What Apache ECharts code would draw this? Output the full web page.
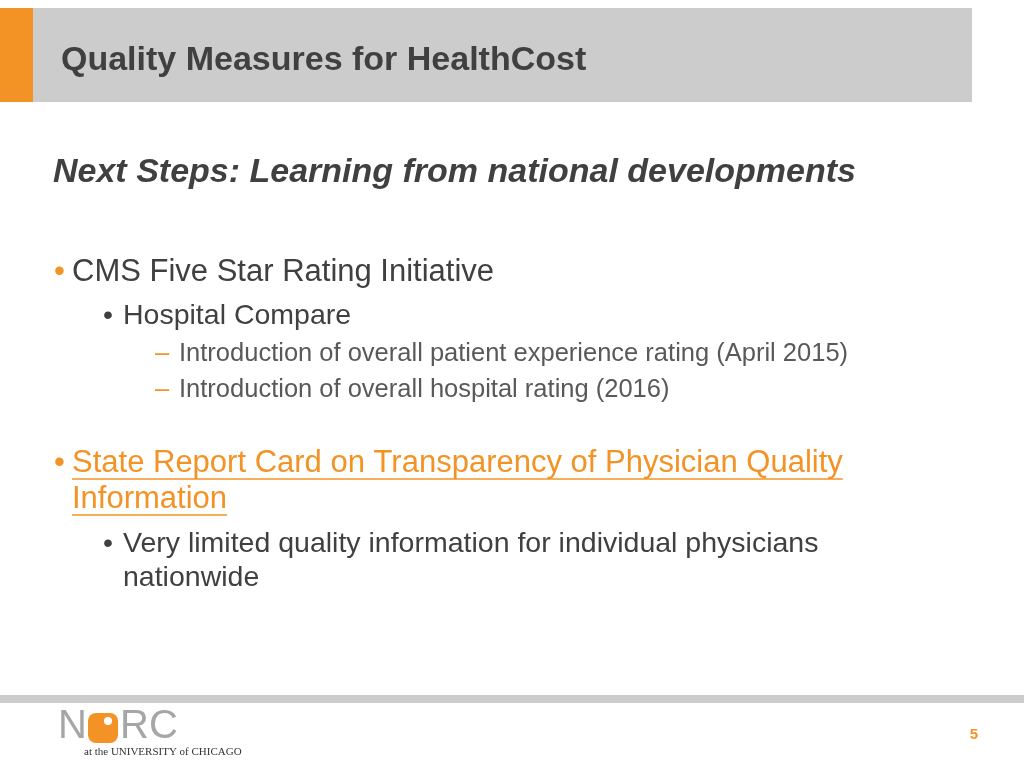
<!DOCTYPE html>
<html>
<head>
<meta charset="utf-8">
<script src="https://cdn.jsdelivr.net/npm/echarts@6/dist/echarts.min.js"></script>
<style>html,body{margin:0;padding:0;background:#fff}#main{width:1024px;height:768px}</style>
</head>
<body>
<div id="main"></div>
<script>
// slide texts
const title = 'Quality Measures for HealthCost';
const subtitle = 'Next Steps: Learning from national developments';
// [level, text, y]
const lines = [
  [1, 'CMS Five Star Rating Initiative', 272],
  [2, 'Hospital Compare', 316],
  [3, 'Introduction of overall patient experience rating (April 2015)', 354],
  [3, 'Introduction of overall hospital rating (2016)', 390],
  [4, 'State Report Card on Transparency of Physician Quality', 463],
  [5, 'Information', 499],
  [2, 'Very limited quality information for individual physicians', 544],
  [6, 'nationwide', 578]
];
const pageNum = '5';

const ORANGE = '#f39325';
const DARK = '#404040';
const FONT = '"Liberation Sans", Arial, sans-serif';

const els = [
  { type: 'rect', shape: { x: 0, y: 8, width: 972, height: 94 }, style: { fill: '#cccccc' } },
  { type: 'rect', shape: { x: 0, y: 8, width: 33, height: 94 }, style: { fill: ORANGE } },
  { type: 'text', x: 61, y: 61, style: { text: title, font: 'bold 34px ' + FONT, fill: DARK, verticalAlign: 'middle' } },
  { type: 'text', x: 53, y: 173, style: { text: subtitle, font: 'italic bold 34px ' + FONT, fill: DARK, verticalAlign: 'middle' } },
  { type: 'rect', shape: { x: 0, y: 695, width: 1024, height: 8 }, style: { fill: '#cccccc' } },
  { type: 'text', x: 974, y: 735, style: { text: pageNum, font: 'bold 15px ' + FONT, fill: ORANGE, align: 'center', verticalAlign: 'middle' } },
  // NORC logo
  { type: 'text', x: 58, y: 727, style: { text: 'N', font: '40px ' + FONT, fill: '#a6a6a6', verticalAlign: 'middle' } },
  { type: 'rect', shape: { x: 88, y: 713, width: 30, height: 30, r: 8 }, style: { fill: ORANGE } },
  { type: 'circle', shape: { cx: 108, cy: 721, r: 4 }, style: { fill: '#fff' } },
  { type: 'text', x: 120, y: 727, style: { text: 'RC', font: '40px ' + FONT, fill: '#a6a6a6', verticalAlign: 'middle' } },
  { type: 'text', x: 84, y: 752, style: { text: 'at the UNIVERSITY of CHICAGO', font: '11px "Liberation Serif", serif', fill: '#333', verticalAlign: 'middle' } }
];

const extra = [];
const ctx = document.createElement('canvas').getContext('2d');
lines.forEach(([lvl, txt, y]) => {
  let bx, tx, size, color = DARK, bullet = '•', bcol = ORANGE, under = false;
  if (lvl === 1) { bx = 54; tx = 72; size = 31; }
  else if (lvl === 2) { bx = 103; tx = 123; size = 28.5; bcol = DARK; }
  else if (lvl === 3) { bx = 155; tx = 179; size = 25.5; color = '#595959'; bullet = '–'; }
  else if (lvl === 4) { bx = 54; tx = 72; size = 31; color = ORANGE; under = true; }
  else if (lvl === 5) { bx = null; tx = 72; size = 31; color = ORANGE; under = true; }
  else { bx = null; tx = 123; size = 28.5; }
  if (bx !== null) {
    els.push({ type: 'text', x: bx, y: y, style: { text: bullet, font: size + 'px ' + FONT, fill: bcol, verticalAlign: 'middle' } });
  }
  els.push({ type: 'text', x: tx, y: y, style: { text: txt, font: size + 'px ' + FONT, fill: color, verticalAlign: 'middle' } });
  if (under) {
    ctx.font = size + 'px ' + FONT;
    const w = ctx.measureText(txt).width;
    extra.push({ type: 'line', shape: { x1: tx, y1: y + 16, x2: tx + w, y2: y + 16 }, style: { stroke: ORANGE, lineWidth: 1.5 } });
  }
});

const chart = echarts.init(document.getElementById('main'));
chart.setOption({ animation: false, graphic: { elements: els.concat(extra) } });
</script>
</body>
</html>
